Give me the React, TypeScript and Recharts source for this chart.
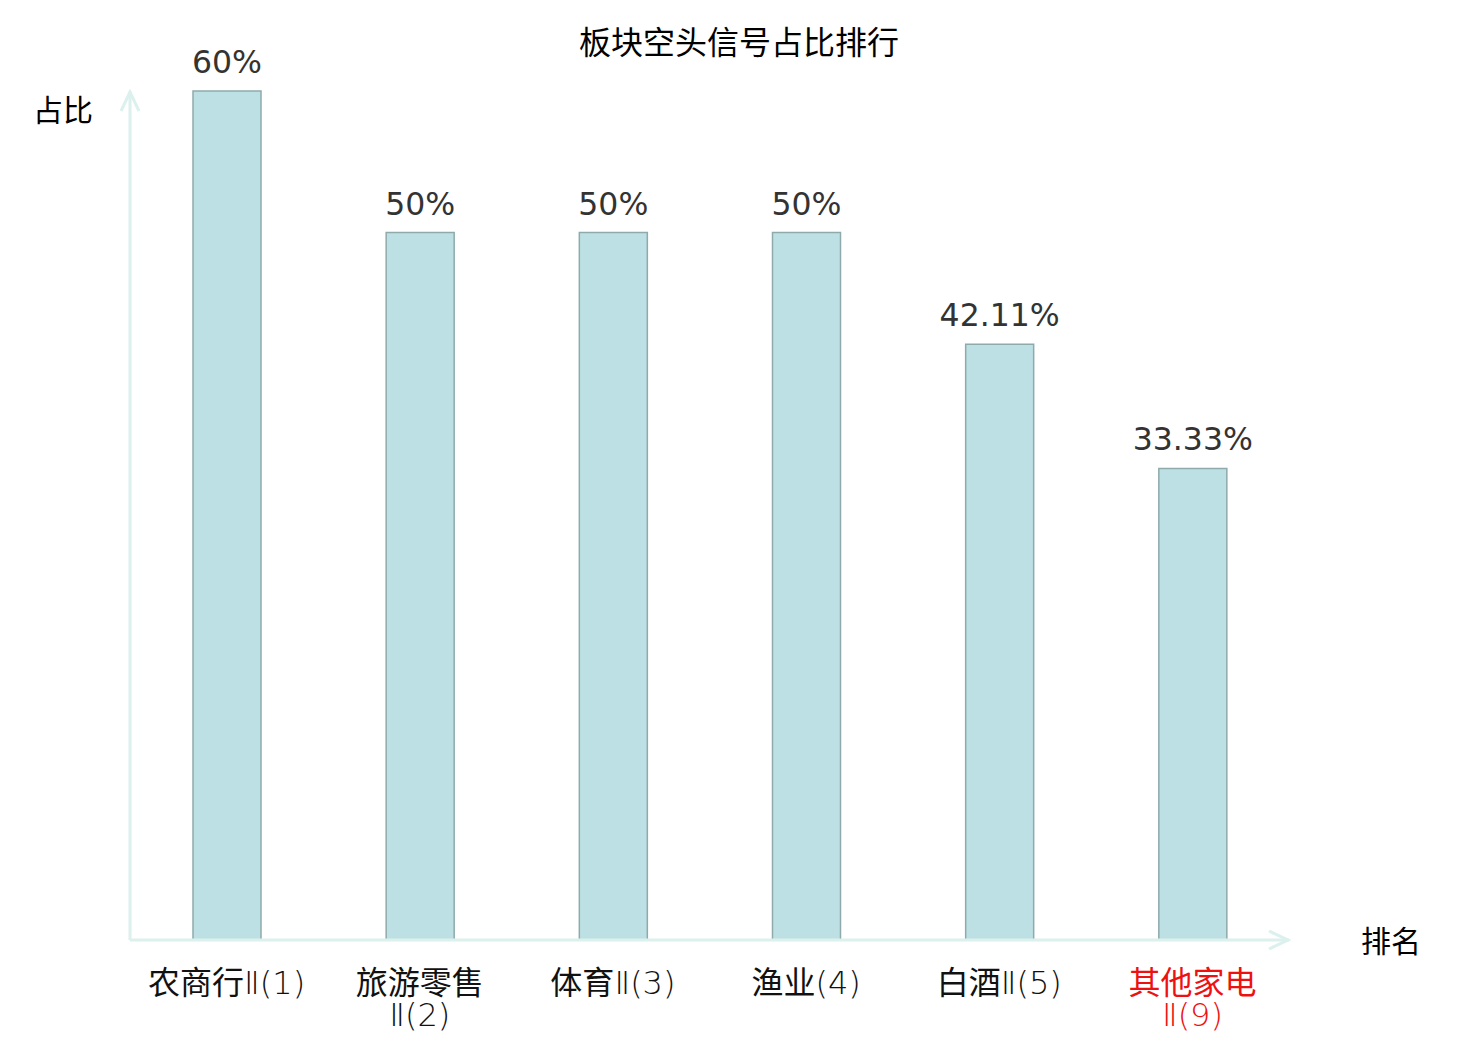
import React from 'react';
import { BarChart, Bar, XAxis, YAxis, LabelList } from 'recharts';

const categories = ['农商行Ⅱ(1)', '旅游零售\nⅡ(2)', '体育Ⅱ(3)', '渔业(4)', '白酒Ⅱ(5)', '其他家电\nⅡ(9)'];
const values = [60, 50, 50, 50, 42.11, 33.33];
const highlighted = [false, false, false, false, false, true];
const title = '板块空头信号占比排行';
const yName = '占比';
const xName = '排名';

const data = categories.map((c, i) => ({ name: c, value: values[i], hl: highlighted[i] }));

const AXIS_COLOR = '#dcf1ee';
const CJK = '"Noto Sans CJK SC", "DejaVu Sans", sans-serif';
const TICK_FONT = '"DejaVu Sans", "Noto Sans CJK SC", sans-serif';

const splitRuns = (s: string) => {
  const runs: { t: string; cjk: boolean }[] = [];
  const re = /[\u4e00-\u9fff]+|[^\u4e00-\u9fff]+/g;
  let m: RegExpExecArray | null;
  while ((m = re.exec(s))) runs.push({ t: m[0], cjk: /[\u4e00-\u9fff]/.test(m[0]) });
  return runs;
};

const Tick = (props: any) => {
  const { x, y, payload, index } = props;
  const lines = String(payload.value).split('\n');
  const color = highlighted[index] ? '#ee1111' : '#111';
  return (
    <g>
      {lines.map((l, i) => (
        <text
          key={i}
          x={x}
          y={y + 54 + i * 32}
          textAnchor="middle"
          fill={color}
          fontSize={32}
          fontFamily={TICK_FONT}
        >
          {splitRuns(l).map((r, j) => (
            <tspan key={j} fontWeight={r.cjk ? 400 : 200} fontFamily={r.cjk ? CJK : TICK_FONT}>
              {r.t}
            </tspan>
          ))}
        </text>
      ))}
    </g>
  );
};

export default function App() {
  return (
    <div style={{ position: 'absolute', left: 0, top: 0, width: 1480, height: 1040, background: '#fff' }}>
      <svg width={0} height={0} style={{ position: 'absolute' }}>
        <defs>
          <marker
            id="arrowHead"
            markerUnits="userSpaceOnUse"
            markerWidth={30}
            markerHeight={30}
            viewBox="0 0 30 30"
            refX={24}
            refY={15}
            orient="auto-start-reverse"
          >
            <path d="M4,6 L23,15 L4,24" fill="none" stroke={AXIS_COLOR} strokeWidth={3} />
          </marker>
        </defs>
      </svg>
      <div
        style={{
          position: 'absolute',
          left: 0,
          width: 1480,
          top: 18,
          textAlign: 'center',
          fontFamily: CJK,
          fontSize: 32,
          lineHeight: '44px',
          color: '#000',
        }}
      >
        <span style={{ position: 'relative', left: -1 }}>{title}</span>
      </div>
      <div style={{ position: 'absolute', left: 33, top: 86, fontFamily: CJK, fontSize: 30, lineHeight: '44px', color: '#000' }}>
        {yName}
      </div>
      <div style={{ position: 'absolute', left: 1361, top: 917, fontFamily: CJK, fontSize: 30, lineHeight: '44px', color: '#000' }}>
        {xName}
      </div>
      <BarChart
        width={1480}
        height={1040}
        data={data}
        margin={{ top: 91, right: 191, bottom: 40, left: 129 }}
        style={{ position: 'absolute', left: 0, top: 0 }}
      >
        <XAxis
          dataKey="name"
          height={60}
          tickLine={false}
          tickSize={0}
          tickMargin={0}
          interval={0}
          axisLine={{ stroke: AXIS_COLOR, strokeWidth: 3, markerEnd: 'url(#arrowHead)' }}
          tick={<Tick />}
        />
        <YAxis
          width={1}
          domain={[0, 60]}
          tick={false}
          tickLine={false}
          axisLine={{ stroke: AXIS_COLOR, strokeWidth: 3, markerStart: 'url(#arrowHead)' }}
        />
        <Bar dataKey="value" barSize={68} fill="#bce0e3" stroke="#8eaaab" strokeWidth={1.5} isAnimationActive={false}>
          <LabelList
            dataKey="value"
            position="top"
            offset={18}
            fill="#333"
            fontSize={31.5}
            fontFamily='"DejaVu Sans", sans-serif'
            formatter={(v: any) => `${v}%`}
          />
        </Bar>
      </BarChart>
    </div>
  );
}
